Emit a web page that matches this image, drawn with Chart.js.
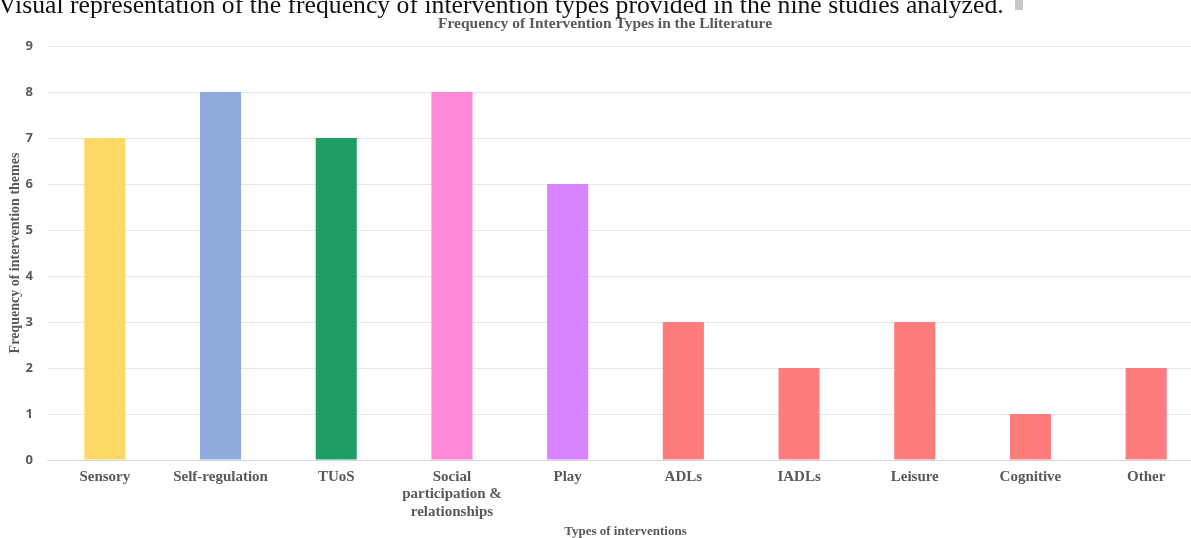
<!DOCTYPE html>
<html>
<head>
<meta charset="utf-8">
<script src="https://cdn.jsdelivr.net/npm/chart.js@4"></script>
<style>
  html, body { margin: 0; padding: 0; background: #fff; overflow: hidden; width: 1191px; height: 538px; }
  #wrap { position: absolute; left: 0; top: 0; width: 1210px; height: 538px; }
  #caption {
    position: absolute; left: -2px; top: -8px; z-index: 2; white-space: nowrap;
    font-family: "Liberation Serif", serif; font-size: 25.7px; line-height: 26px; color: #111;
  }
  #cursor { position: absolute; left: 1015px; top: 0; width: 8px; height: 10px; background: #c8c8c8; z-index: 2; }
</style>
</head>
<body>
<div id="caption">Visual representation of the frequency of intervention types provided in the nine studies analyzed.</div>
<div id="cursor"></div>
<div id="wrap"><canvas id="chart"></canvas></div>
<script>
// data
const categories = ["Sensory", "Self-regulation", "TUoS", ["Social", "participation &", "relationships"], "Play", "ADLs", "IADLs", "Leisure", "Cognitive", "Other"];
const frequencies = [7, 8, 7, 8, 6, 3, 2, 3, 1, 2];
const barColors = ["#FFD966", "#8FAADC", "#1F9E66", "#FF89D9", "#D883FF", "#FF7C7C", "#FF7C7C", "#FF7C7C", "#FF7C7C", "#FF7C7C"];
const yTicks = [0, 1, 2, 3, 4, 5, 6, 7, 8, 9];

const chartTitle = "Frequency of Intervention Types in the Lliterature";
const xTitle = "Types of interventions";
const yTitle = "Frequency of intervention themes";

const grey = "#595959";

// title sits a bit left of the plot centre in the original, so draw it by hand
const titlePlugin = {
  id: "topTitle",
  afterDraw(chart) {
    const ctx = chart.ctx;
    ctx.save();
    ctx.font = "bold 15.5px 'Liberation Serif', serif";
    ctx.fillStyle = grey;
    ctx.textAlign = "center";
    ctx.textBaseline = "middle";
    ctx.fillText(chartTitle, 605, 24);
    ctx.restore();
  }
};

new Chart(document.getElementById("chart"), {
  type: "bar",
  data: {
    labels: categories,
    datasets: [{
      data: frequencies,
      backgroundColor: barColors,
      borderWidth: 0,
      categoryPercentage: 1,
      barPercentage: 0.355
    }]
  },
  options: {
    responsive: true,
    maintainAspectRatio: false,
    animation: false,
    layout: { padding: { top: 46, right: 6, bottom: 0, left: 0 } },
    plugins: {
      legend: { display: false },
      tooltip: { enabled: false }
    },
    scales: {
      x: {
        afterFit(scale) { scale.height = 78; },
        grid: { display: false, drawTicks: false },
        border: { color: "#d9d9d9", width: 1 },
        ticks: {
          color: grey,
          padding: 8,
          maxRotation: 0,
          autoSkip: false,
          font: { family: "'Liberation Serif', serif", size: 15, weight: "bold", lineHeight: 1.17 }
        },
        title: {
          display: true,
          text: xTitle,
          color: grey,
          padding: { top: 0, bottom: -1 },
          font: { family: "'Liberation Serif', serif", size: 13, weight: "bold" }
        }
      },
      y: {
        min: 0,
        max: 9,
        afterFit(scale) { scale.width = 47; },
        afterBuildTicks(scale) { scale.ticks = yTicks.map(v => ({ value: v })); },
        grid: { color: "#e6e6e6", drawTicks: false },
        border: { display: false },
        ticks: {
          color: grey,
          padding: 14,
          font: { family: "'Open Sans', sans-serif", size: 13, weight: "bold" }
        },
        title: {
          display: true,
          text: yTitle,
          color: grey,
          padding: { top: 7, bottom: 0 },
          font: { family: "'Liberation Serif', serif", size: 14, weight: "bold" }
        }
      }
    }
  },
  plugins: [titlePlugin]
});
</script>
</body>
</html>
